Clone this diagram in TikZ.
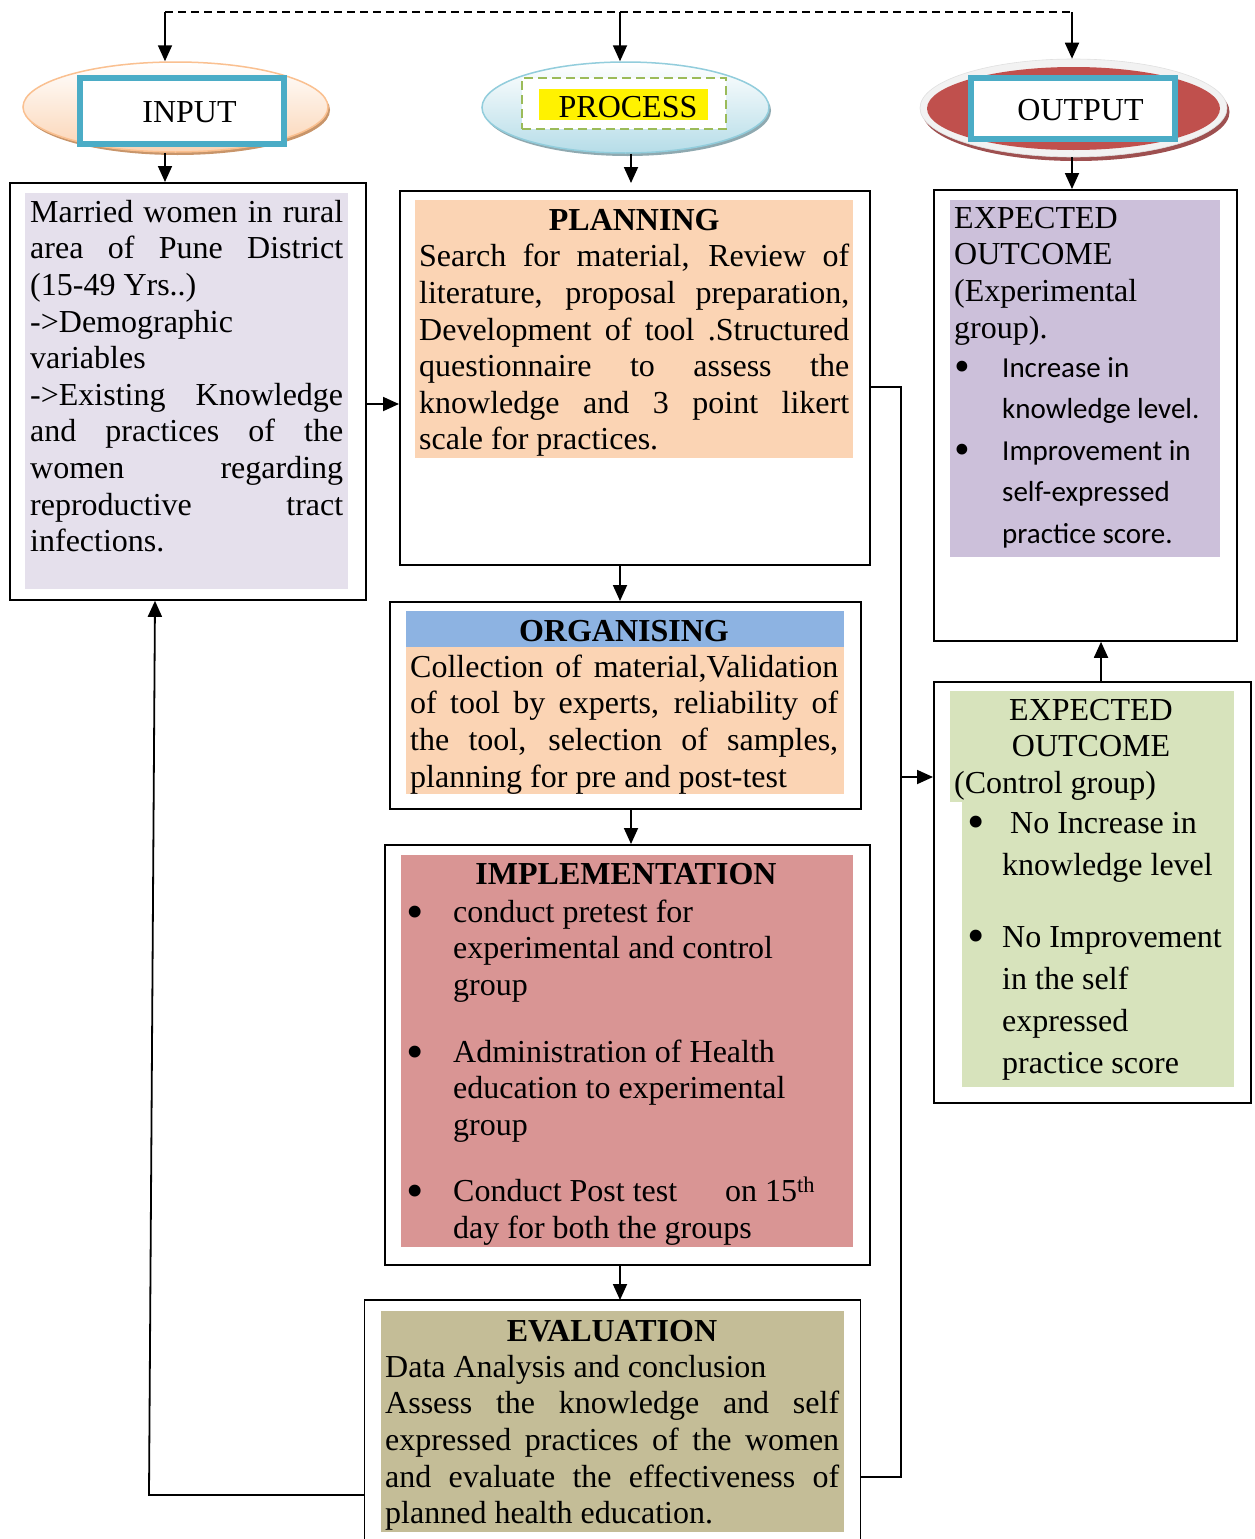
\documentclass[tikz,border=0pt]{standalone}
\usepackage{fontspec}
\usepackage{graphicx}
\setmainfont{Liberation Serif}
\newfontfamily\calib{Carlito}
\usetikzlibrary{arrows.meta,shapes.geometric}
\newcommand\jst[2]{\makebox[#1][s]{#2}}
\newcommand\bigbul[1]{\raisebox{#1}{\scalebox{1.55}{\rmfamily\textbullet}}}
\definecolor{lav}{HTML}{E5E0EC}
\definecolor{peach}{HTML}{FBD4B4}
\definecolor{orgblue}{HTML}{8DB3E2}
\definecolor{pinkc}{HTML}{D99594}
\definecolor{khaki}{HTML}{C4BD97}
\definecolor{purp}{HTML}{CCC0DA}
\definecolor{greenc}{HTML}{D7E3BC}
\definecolor{cyanc}{HTML}{4BACC6}
\definecolor{dgreen}{HTML}{9BBB59}
\definecolor{inborder}{HTML}{FAC090}
\definecolor{inshadow}{HTML}{C8956A}
\definecolor{prborder}{HTML}{92CDDC}
\definecolor{prbottom}{HTML}{B6DDE8}
\definecolor{prshadow}{HTML}{8FA9B0}
\definecolor{outred}{HTML}{C0504D}
\definecolor{outgray}{HTML}{F2F2F2}
\definecolor{outshadow}{HTML}{9E5050}
\begin{document}
\begin{tikzpicture}[x=1pt,y=-1pt,
  frame/.style={draw, line width=1.8pt, fill=white, inner sep=0pt, anchor=north west},
  conn/.style={line width=1.8pt},
  arr/.style={line width=1.8pt, -{Triangle[length=16pt,width=14pt]}},
  txt/.style={inner sep=0pt, anchor=north west, align=left,
    font=\fontsize{32}{36.6}\selectfont},
  head/.style={inner sep=0pt, anchor=base, font=\fontsize{32}{36.6}\selectfont\bfseries},
  lbl/.style={inner sep=0pt, anchor=base, font=\fontsize{32}{36.6}\selectfont},
  ell/.style={ellipse, inner sep=0pt},
]
\useasboundingbox (0,0) rectangle (1255,1539);
\fill[white] (0,0) rectangle (1255,1539);

% ---------- top dashed feedback ----------
\coordinate (d1) at (165,12);
\coordinate (d2) at (620,12);
\coordinate (d3) at (1072,12);
\draw[line width=1.7pt, dash pattern=on 8pt off 5pt] (d1) -- (d3);

% ---------- INPUT ellipse ----------
\fill[inshadow] (177.5,110) ellipse [x radius=152.5pt, y radius=45pt];
\node[ell, draw=inborder, line width=1.5pt, top color=white, bottom color=peach,
  minimum width=305pt, minimum height=90pt] (inell) at (175.5,107) {};
\node[draw=cyanc, line width=6pt, fill=white, inner sep=0pt,
  minimum width=204pt, minimum height=66pt] (inlab) at (182,111) {};
\node[lbl] at (189.5,122) {INPUT};

% ---------- PROCESS ellipse ----------
\fill[prshadow] (627.5,110.5) ellipse [x radius=143.5pt, y radius=45.5pt];
\node[ell, draw=prborder, line width=1.5pt, top color=white, bottom color=prbottom,
  minimum width=287pt, minimum height=91pt] (prell) at (625.5,107.5) {};
\node[draw=dgreen, line width=2.5pt, dash pattern=on 9pt off 5pt, fill=white, inner sep=0pt,
  minimum width=204pt, minimum height=51pt] (prlab) at (624,103.5) {};
\fill[yellow] (539,89) rectangle (708,120);
\node[lbl] at (628,117) {PROCESS};

% ---------- OUTPUT ellipse ----------
\fill[outshadow] (1076,112) ellipse [x radius=153.5pt, y radius=49pt];
\node[ell, fill=outgray, draw=black!12, line width=0.6pt,
  minimum width=307pt, minimum height=98pt] (outell) at (1073.5,108) {};
\fill[outred] (1073.5,108.5) ellipse [x radius=146.5pt, y radius=41.5pt];
\node[draw=cyanc, line width=6pt, fill=white, inner sep=0pt,
  minimum width=204pt, minimum height=61pt] (outlab) at (1073,108.5) {};
\node[lbl] at (1080.5,120) {OUTPUT};

% ---------- frames ----------
\node[frame, minimum width=356pt, minimum height=417pt] (inbox) at (9,182) {};
\node[frame, minimum width=470pt, minimum height=374pt] (plan) at (399,190) {};
\node[frame, minimum width=471pt, minimum height=207pt] (org) at (389,601) {};
\node[frame, minimum width=485pt, minimum height=420pt] (impl) at (384,844) {};
\node[inner sep=0pt, anchor=north west, minimum width=495.5pt, minimum height=239pt] (evbox) at (364.5,1300) {};
\draw[conn, fill=white] (evbox.south west) -- (evbox.north west) -- (evbox.north east) -- (evbox.south east);
\node[frame, minimum width=303pt, minimum height=451pt] (expbox) at (933,189) {};
\node[frame, minimum width=317pt, minimum height=421pt] (ctrl) at (933,681) {};

% ---------- inner fills ----------
\fill[lav] (25,193) rectangle (348,589);
\fill[peach] (415,200) rectangle (853,458);
\fill[orgblue] (406,611) rectangle (844,647);
\fill[peach] (406,647) rectangle (844,794);
\fill[pinkc] (401,855) rectangle (853,1247);
\fill[khaki] (381,1311) rectangle (844,1532);
\fill[purp] (950,200) rectangle (1220,557);
\fill[greenc] (950,691) rectangle (1234,802);
\fill[greenc] (962,801) rectangle (1234,1087);

% ---------- texts ----------
\node[txt] (intext) at (30,196.38) {%
\strut\jst{313pt}{Married women in rural}\\
\jst{313pt}{area of Pune District}\\
(15-49 Yrs..)\\
->Demographic\\
variables\\
\jst{313pt}{->Existing Knowledge}\\
\jst{313pt}{and practices of the}\\
\jst{313pt}{women regarding}\\
\jst{313pt}{reproductive tract}\\
infections.};

\node[txt] (plantext) at (419,204.38) {%
\strut\makebox[430pt]{\bfseries PLANNING}\\
\jst{430pt}{Search for material, Review of}\\
\jst{430pt}{literature, proposal preparation,}\\
\jst{430pt}{Development of tool .Structured}\\
\jst{430pt}{questionnaire to assess the}\\
\jst{430pt}{knowledge and 3 point likert}\\
scale for practices.};

\node[head] (orghead) at (624,641) {ORGANISING};
\node[txt] (orgtext) at (410,651.38) {%
\strut\jst{428pt}{Collection of material,Validation}\\
\jst{428pt}{of tool by experts, reliability of}\\
\jst{428pt}{the tool, selection of samples,}\\
planning for pre and post-test};

\node[head] (implhead) at (626,884) {IMPLEMENTATION};
\node[txt] (impltext) at (406,896.38) {%
\strut\makebox[47pt][l]{\bigbul{-6pt}}conduct pretest for\\
\hspace*{47pt}experimental and control\\
\hspace*{47pt}group\\[30pt]
\makebox[47pt][l]{\bigbul{-6pt}}Administration of Health\\
\hspace*{47pt}education to experimental\\
\hspace*{47pt}group\\[30pt]
\makebox[47pt][l]{\bigbul{-6pt}}Conduct Post test\hspace*{48pt}on 15\textsuperscript{th}\\
\hspace*{47pt}day for both the groups};

\node[head] (evhead) at (612,1341) {EVALUATION};
\node[txt] (evtext) at (385,1351.38) {%
\strut Data Analysis and conclusion\\
\jst{454pt}{Assess the knowledge and self}\\
\jst{454pt}{expressed practices of the women}\\
\jst{454pt}{and evaluate the effectiveness of}\\
planned health education.};

\node[txt] (exptext) at (954,202.38) {\strut EXPECTED\\OUTCOME\\(Experimental\\group).};
\node[txt, font=\calib\fontsize{29}{41.5}\selectfont] (expbul) at (954,347.95) {%
\strut\makebox[48pt][l]{\bigbul{-4pt}}Increase in\\
\hspace*{48pt}knowledge level.\\
\makebox[48pt][l]{\bigbul{-4pt}}Improvement in\\
\hspace*{48pt}self-expressed\\
\hspace*{48pt}practice score.};

\node[txt, anchor=north, align=center] (ctrlhead) at (1091,694.38) {\strut EXPECTED\\OUTCOME};
\node[lbl, anchor=base west] (ctrlsub) at (954,793) {(Control group)};
\node[txt, font=\fontsize{32}{42}\selectfont] (ctrlbul) at (967,803.6) {%
\strut\makebox[35pt][l]{\bigbul{-5pt}}\hspace*{8pt}No Increase in\\
\hspace*{35pt}knowledge level\\[30pt]
\makebox[35pt][l]{\bigbul{-5pt}}No Improvement\\
\hspace*{35pt}in the self\\
\hspace*{35pt}expressed\\
\hspace*{35pt}practice score};

% ---------- connectors ----------
\draw[arr] (d1) -- (inell.north -| d1);
\draw[arr] (d2) -- (prell.north -| d2);
\draw[arr] (d3) -- (outell.north -| d3);

\coordinate (xa) at (165,0);
\coordinate (xb) at (631,0);
\coordinate (xc) at (1072,0);
\draw[arr] (inell.south -| xa) -- (inbox.north -| xa);
\draw[arr, shorten >=7pt] (prell.south -| xb) -- (plan.north -| xb);
\draw[arr] (outell.south -| xc) -- (expbox.north -| xc);

\coordinate (y404) at (0,404);
\draw[arr] (inbox.east |- y404) -- (plan.west |- y404);

\coordinate (x620) at (620,0);
\draw[arr] (plan.south -| x620) -- (org.north -| x620);
\draw[arr] (org.south -| xb) -- (impl.north -| xb);
\draw[arr] (impl.south -| x620) -- (evbox.north -| x620);

\coordinate (rt) at (901,387);
\coordinate (rj) at (901,777);
\coordinate (rb) at (901,1477);
\draw[conn] (plan.east |- rt) -- (rt) -- (rb) -- (evbox.east |- rb);
\draw[arr] (rj) -- (ctrl.west |- rj);

\coordinate (x1101) at (1101,0);
\draw[arr] (ctrl.north -| x1101) -- (expbox.south -| x1101);

\coordinate (fb) at (149,1495);
\coordinate (x155) at (155,0);
\draw[arr] (evbox.west |- fb) -- (fb) -- (inbox.south -| x155);
\end{tikzpicture}
\end{document}
